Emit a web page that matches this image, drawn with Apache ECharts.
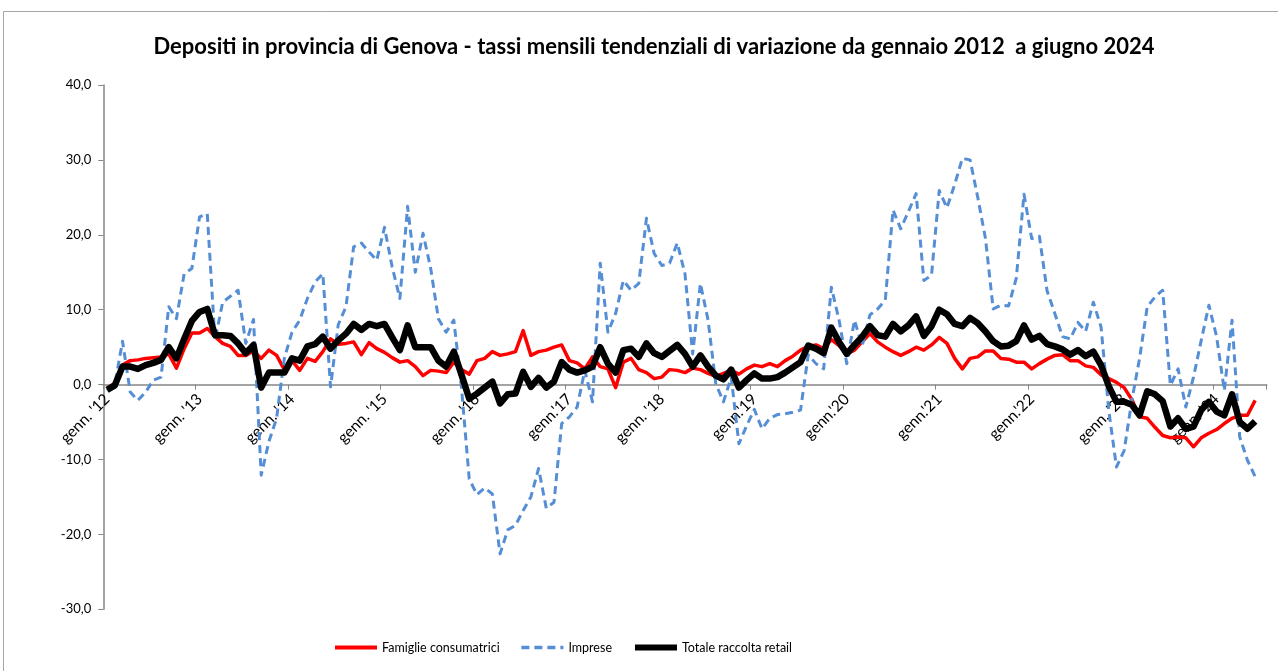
<!DOCTYPE html>
<html>
<head>
<meta charset="utf-8">
<script src="https://cdn.jsdelivr.net/npm/echarts@6/dist/echarts.min.js"></script>
<style>html,body{margin:0;padding:0;background:#fff}#c{width:1278px;height:671px}</style>
</head>
<body>
<div id="c"></div>
<script>
const titleText = "Depositi in provincia di Genova - tassi mensili tendenziali di variazione da gennaio 2012  a giugno 2024";
const seriesNames = ["Famiglie consumatrici", "Imprese", "Totale raccolta retail"];
const tickLabels = ["genn. '12","genn. '13","genn. '14","genn. '15","genn. '16","genn.'17","genn. '18","genn.'19","genn.'20","genn.'21","genn.'22","genn. '23","genn. '24"];
const monthNames = ["genn.","febb.","mar.","apr.","magg.","giu.","lug.","ago.","sett.","ott.","nov.","dic."];
const yTicks = [-30, -20, -10, 0, 10, 20, 30, 40];

const famiglie = [
-0.5,0.2,2.6,3.2,3.3,3.5,3.6,3.7,4.1,2.2,4.8,6.9,
6.9,7.5,6.4,5.5,5.1,3.9,3.9,4.5,3.5,4.6,3.9,2.0,
3.2,1.9,3.5,3.1,4.4,6.1,5.4,5.5,5.7,4.0,5.6,4.8,
4.3,3.6,3.0,3.2,2.4,1.2,1.9,1.8,1.6,3.0,2.0,1.4,
3.2,3.5,4.4,3.9,4.1,4.4,7.2,3.9,4.4,4.6,5.0,5.3,
3.2,2.9,2.1,3.7,2.4,2.1,-0.4,3.0,3.5,2.0,1.6,0.8,
1.0,2.0,1.9,1.6,2.2,2.0,1.5,1.1,1.5,1.9,1.4,2.1,
2.6,2.4,2.8,2.4,3.2,3.8,4.6,5.1,5.3,4.8,6.0,5.2,
4.1,4.6,5.7,6.8,5.7,5.0,4.4,3.9,4.4,5.0,4.6,5.3,
6.3,5.5,3.5,2.1,3.5,3.7,4.5,4.5,3.5,3.4,3.0,3.0,
2.1,2.8,3.4,3.9,4.0,3.2,3.2,2.5,2.3,1.3,0.8,0.3,
-0.4,-2.0,-4.3,-4.5,-5.7,-6.8,-7.1,-7.0,-7.1,-8.3,-7.1,-6.5,
-6.0,-5.2,-4.5,-4.1,-4.1,-2.1
];
const imprese = [
-0.8,0.0,5.8,-1.0,-2.1,-1.0,0.6,1.0,10.4,8.8,14.8,15.5,
22.4,22.8,5.9,11.0,11.8,12.6,5.5,8.7,-12.1,-7.6,-4.5,3.5,
7.0,8.6,11.5,13.7,14.8,-0.3,8.0,10.4,18.4,18.9,17.7,16.6,
21.0,15.7,11.5,23.8,15.0,20.2,15.5,8.8,7.0,8.6,-0.5,-12.6,
-14.7,-13.8,-14.6,-22.6,-19.4,-18.8,-16.8,-15.0,-11.2,-16.5,-15.7,-5.2,
-4.3,-3.0,1.9,-2.3,16.2,7.0,9.5,13.9,12.6,13.5,22.2,17.5,
15.9,16.2,18.9,14.8,4.1,13.5,8.6,0.1,-2.3,1.0,-7.9,-5.5,
-3.3,-5.9,-4.5,-4.0,-3.9,-3.7,-3.4,4.0,2.8,2.1,13.0,8.6,
2.8,8.6,5.2,9.3,10.1,11.3,23.3,20.8,23.1,25.5,13.9,14.6,
25.9,23.6,26.7,30.2,30.0,25.0,19.5,10.1,10.6,10.5,14.2,25.4,
19.5,19.8,12.5,9.5,6.4,6.1,8.3,7.1,11.0,7.7,-3.4,-11.0,
-8.8,-2.1,3.5,10.4,11.7,12.6,-0.1,2.1,-3.0,1.0,5.9,10.6,
6.4,-0.8,8.6,-7.0,-10.1,-12.3
];
const totale = [
-0.7,-0.1,2.4,2.4,2.1,2.6,2.9,3.3,5.0,3.5,6.1,8.5,
9.7,10.1,6.6,6.6,6.5,5.5,4.2,5.3,-0.4,1.6,1.6,1.6,
3.5,3.2,5.1,5.4,6.4,4.8,5.9,6.8,8.1,7.3,8.1,7.8,
8.1,6.3,4.6,7.9,5.0,5.0,5.0,3.2,2.4,4.4,1.3,-1.9,
-1.2,-0.4,0.4,-2.5,-1.3,-1.2,1.7,-0.3,0.9,-0.4,0.4,3.0,
2.0,1.6,1.9,2.4,5.0,2.8,1.6,4.6,4.8,3.7,5.5,4.2,
3.7,4.5,5.3,4.1,2.4,3.9,2.4,1.2,0.7,2.0,-0.4,0.6,
1.5,0.8,0.8,1.0,1.6,2.3,3.0,5.2,4.8,4.2,7.6,5.7,
4.1,5.3,6.4,7.8,6.6,6.4,8.1,7.1,7.9,9.1,6.5,7.8,
10.0,9.4,8.1,7.8,8.9,8.2,7.1,5.8,5.1,5.2,5.8,7.9,
6.0,6.5,5.4,5.1,4.7,4.0,4.6,3.8,4.4,2.6,-0.2,-2.3,
-2.3,-2.7,-4.1,-0.9,-1.3,-2.2,-5.6,-4.5,-5.9,-5.6,-3.4,-2.3,
-3.6,-4.1,-1.3,-5.0,-5.9,-4.9
];

// 151 monthly categories (Jan 2012 .. Jul 2024, last one empty)
const categories = [];
for (let m = 0; m < 151; m++) {
  const yy = String(12 + Math.floor(m / 12)).padStart(2, '0');
  categories.push(m % 12 === 0 ? tickLabels[m / 12] : monthNames[m % 12] + " '" + yy);
}

const FONT = 'Lato, "Open Sans", sans-serif';
const GRID_TOP = 85, GRID_BOTTOM = 61.7, H = 671;
const plotH = H - GRID_TOP - GRID_BOTTOM;
const yMin = yTicks[0], yMax = yTicks[yTicks.length - 1];
// shift the category axis up so that it sits on the zero line
const zeroOffset = -plotH * (0 - yMin) / (yMax - yMin);

const chart = echarts.init(document.getElementById('c'), null, {renderer: 'canvas'});
chart.setOption({
  animation: false,
  backgroundColor: '#fff',
  textStyle: {fontFamily: FONT},
  graphic: [
    {type: 'rect', z: -10, silent: true, shape: {x: 3.5, y: 11.5, width: 1300, height: 700},
     style: {fill: 'none', stroke: '#a6a6a6', lineWidth: 1}},
    {type: 'text', x: 654, y: 47, silent: true,
     style: {text: titleText, fontFamily: FONT, fontWeight: 'bold', fontSize: 22, fill: '#000',
             textAlign: 'center', textVerticalAlign: 'middle'}}
  ],
  legend: {
    left: 333, top: 641, padding: 0,
    itemWidth: 42, itemHeight: 14, itemGap: 20,
    itemStyle: {opacity: 0},
    textStyle: {fontFamily: FONT, fontSize: 12.5, color: '#000'},
    data: [
      {name: seriesNames[0], lineStyle: {width: 4}},
      {name: seriesNames[1], lineStyle: {width: 3.5}},
      {name: seriesNames[2], lineStyle: {width: 6}}
    ]
  },
  grid: {left: 103.25, right: 11.3, top: GRID_TOP, bottom: GRID_BOTTOM, containLabel: false},
  xAxis: {
    type: 'category',
    data: categories,
    boundaryGap: true,
    offset: zeroOffset,
    axisLine: {onZero: false, lineStyle: {color: '#868686', width: 1.5}},
    axisTick: {show: true, interval: 11, length: 5, lineStyle: {color: '#868686'}},
    axisLabel: {interval: 11, rotate: 45, margin: 12, color: '#000', fontSize: 15.5, fontFamily: FONT},
    splitLine: {show: false}
  },
  yAxis: {
    type: 'value',
    min: yMin, max: yMax, interval: 10,
    axisLine: {show: true, lineStyle: {color: '#868686', width: 1.5}},
    axisTick: {show: true, length: 5, lineStyle: {color: '#868686'}},
    axisLabel: {color: '#000', fontSize: 13, fontFamily: FONT, margin: 12,
                formatter: v => v.toFixed(1).replace('.', ',')},
    splitLine: {show: false}
  },
  series: [
    {name: seriesNames[0], type: 'line', data: famiglie, symbol: 'none',
     lineStyle: {color: '#ff0000', width: 3.5, join: 'round'}, itemStyle: {color: '#ff0000'}},
    {name: seriesNames[1], type: 'line', data: imprese, symbol: 'none',
     lineStyle: {color: '#558ed5', width: 3, type: [8, 5], join: 'round'}, itemStyle: {color: '#558ed5'}},
    {name: seriesNames[2], type: 'line', data: totale, symbol: 'none',
     lineStyle: {color: '#000000', width: 6.5, join: 'round'}, itemStyle: {color: '#000000'}}
  ]
});
</script>
</body>
</html>
